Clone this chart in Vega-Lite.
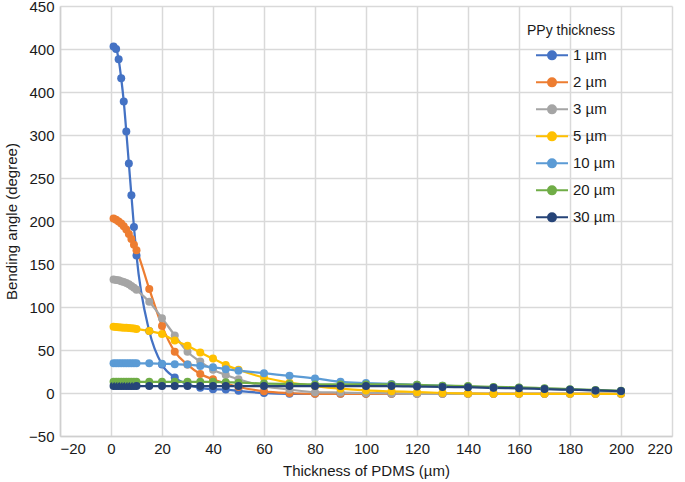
{
  "$schema": "https://vega.github.io/schema/vega-lite/v6.json",
  "width": 612,
  "height": 430,
  "autosize": "none",
  "padding": {"left": 60, "top": 6, "right": 13, "bottom": 46},
  "background": "white",
  "config": {
    "font": "Liberation Sans",
    "view": {"stroke": null},
    "axis": {
      "labelFontSize": 15,
      "titleFontSize": 15,
      "titleFontWeight": "normal",
      "labelColor": "#1a1a1a",
      "titleColor": "#1a1a1a",
      "ticks": false,
      "gridColor": "#d9d9d9",
      "gridWidth": 1.5,
      "domainColor": "#cfcfcf",
      "domainWidth": 1.5
    }
  },
  "data": {
    "values": [
      {"x": 1, "1 µm": 403, "2 µm": 203, "3 µm": 132, "5 µm": 77, "10 µm": 34.5, "20 µm": 13, "30 µm": 8},
      {"x": 2, "1 µm": 400, "2 µm": 201.5, "3 µm": 131.5, "5 µm": 76.8, "10 µm": 34.5, "20 µm": 13, "30 µm": 8},
      {"x": 3, "1 µm": 388, "2 µm": 199.5, "3 µm": 131, "5 µm": 76.5, "10 µm": 34.5, "20 µm": 13, "30 µm": 8},
      {"x": 4, "1 µm": 366, "2 µm": 197, "3 µm": 130, "5 µm": 76.2, "10 µm": 34.5, "20 µm": 13, "30 µm": 8},
      {"x": 5, "1 µm": 339, "2 µm": 194, "3 µm": 129, "5 µm": 76, "10 µm": 34.5, "20 µm": 13, "30 µm": 8},
      {"x": 6, "1 µm": 304, "2 µm": 190, "3 µm": 128, "5 µm": 75.8, "10 µm": 34.5, "20 µm": 13, "30 µm": 8},
      {"x": 7, "1 µm": 267, "2 µm": 185, "3 µm": 126.5, "5 µm": 75.5, "10 µm": 34.5, "20 µm": 13, "30 µm": 8},
      {"x": 8, "1 µm": 230, "2 µm": 179, "3 µm": 124.5, "5 µm": 75.2, "10 µm": 34.5, "20 µm": 13, "30 µm": 8},
      {"x": 9, "1 µm": 193, "2 µm": 172.5, "3 µm": 122.5, "5 µm": 75, "10 µm": 34.5, "20 µm": 13, "30 µm": 8},
      {"x": 10, "1 µm": 160, "2 µm": 166, "3 µm": 120, "5 µm": 74.5, "10 µm": 34.5, "20 µm": 13, "30 µm": 8},
      {"x": 15, "1 µm": 72, "2 µm": 121, "3 µm": 106, "5 µm": 72, "10 µm": 34.5, "20 µm": 13, "30 µm": 8},
      {"x": 20, "1 µm": 33, "2 µm": 78, "3 µm": 87, "5 µm": 68.5, "10 µm": 34, "20 µm": 13, "30 µm": 8},
      {"x": 25, "1 µm": 18, "2 µm": 48, "3 µm": 67, "5 µm": 61, "10 µm": 33.5, "20 µm": 13, "30 µm": 8},
      {"x": 30, "1 µm": 10, "2 µm": 33, "3 µm": 48, "5 µm": 55, "10 µm": 33, "20 µm": 13, "30 µm": 8},
      {"x": 35, "1 µm": 6, "2 µm": 22, "3 µm": 36.5, "5 µm": 47, "10 µm": 31.5, "20 µm": 13, "30 µm": 8},
      {"x": 40, "1 µm": 4.5, "2 µm": 16, "3 µm": 27, "5 µm": 40, "10 µm": 30, "20 µm": 13, "30 µm": 8},
      {"x": 45, "1 µm": 4, "2 µm": 11, "3 µm": 21, "5 µm": 32.7, "10 µm": 27.7, "20 µm": 12.5, "30 µm": 8},
      {"x": 50, "1 µm": 2.5, "2 µm": 7, "3 µm": 16, "5 µm": 27, "10 µm": 26, "20 µm": 12, "30 µm": 8},
      {"x": 60, "1 µm": 0, "2 µm": 2, "3 µm": 8, "5 µm": 18, "10 µm": 23, "20 µm": 11, "30 µm": 8},
      {"x": 70, "1 µm": -1, "2 µm": 0, "3 µm": 4, "5 µm": 12, "10 µm": 20, "20 µm": 10.5, "30 µm": 8},
      {"x": 80, "1 µm": -1, "2 µm": -1, "3 µm": 1, "5 µm": 8, "10 µm": 17, "20 µm": 10, "30 µm": 8},
      {"x": 90, "1 µm": -1, "2 µm": -1, "3 µm": 0.5, "5 µm": 5, "10 µm": 13, "20 µm": 10, "30 µm": 8},
      {"x": 100, "1 µm": -1, "2 µm": -1, "3 µm": 0, "5 µm": 3, "10 µm": 11.5, "20 µm": 10, "30 µm": 8},
      {"x": 110, "1 µm": -1, "2 µm": -1, "3 µm": -0.5, "5 µm": 2, "10 µm": 10.5, "20 µm": 10, "30 µm": 8},
      {"x": 120, "1 µm": -1, "2 µm": -1, "3 µm": -1, "5 µm": 1, "10 µm": 9.5, "20 µm": 9.5, "30 µm": 7.5},
      {"x": 130, "1 µm": -1, "2 µm": -1, "3 µm": -1, "5 µm": 0, "10 µm": 8.5, "20 µm": 8.5, "30 µm": 7},
      {"x": 140, "1 µm": -1, "2 µm": -1, "3 µm": -1, "5 µm": -0.5, "10 µm": 7.5, "20 µm": 8, "30 µm": 6.8},
      {"x": 150, "1 µm": -1, "2 µm": -1, "3 µm": -1, "5 µm": -1, "10 µm": 6.5, "20 µm": 7, "30 µm": 6},
      {"x": 160, "1 µm": -1, "2 µm": -1, "3 µm": -1, "5 µm": -1, "10 µm": 6, "20 µm": 6.5, "30 µm": 5.5},
      {"x": 170, "1 µm": -1, "2 µm": -1, "3 µm": -1, "5 µm": -1, "10 µm": 5, "20 µm": 5.5, "30 µm": 4.6},
      {"x": 180, "1 µm": -1, "2 µm": -1, "3 µm": -1, "5 µm": -1, "10 µm": 4, "20 µm": 4.5, "30 µm": 3.8},
      {"x": 190, "1 µm": -1, "2 µm": -1, "3 µm": -1, "5 µm": -1, "10 µm": 3, "20 µm": 3.5, "30 µm": 3},
      {"x": 200, "1 µm": -1, "2 µm": -1, "3 µm": -1, "5 µm": -1, "10 µm": 2, "20 µm": 2.5, "30 µm": 2.3}
    ]
  },
  "transform": [
    {"fold": ["1 µm", "2 µm", "3 µm", "5 µm", "10 µm", "20 µm", "30 µm"], "as": ["s", "y"]}
  ],
  "encoding": {
    "x": {
      "field": "x",
      "type": "quantitative",
      "scale": {"domain": [-20, 220], "nice": false, "zero": false},
      "axis": {
        "values": [-20, 0, 20, 40, 60, 80, 100, 120, 140, 160, 180, 200, 220],
        "title": "Thickness of PDMS (µm)",
        "labelPadding": 5,
        "titlePadding": 7
      }
    },
    "y": {
      "field": "y",
      "type": "quantitative",
      "scale": {"domain": [-50, 450], "nice": false, "zero": false},
      "axis": {
        "values": [-50, 0, 50, 100, 150, 200, 250, 300, 350, 400, 450],
        "labelExpr": "datum.value == 350 ? '400' : datum.label",
        "title": "Bending angle (degree)",
        "labelPadding": 6,
        "titlePadding": 9
      }
    },
    "color": {
      "field": "s",
      "type": "nominal",
      "scale": {
        "domain": ["1 µm", "2 µm", "3 µm", "5 µm", "10 µm", "20 µm", "30 µm"],
        "range": ["#4472C4", "#ED7D31", "#A5A5A5", "#FFC000", "#5B9BD5", "#70AD47", "#264478"]
      },
      "legend": {
        "title": "PPy thickness",
        "orient": "none",
        "legendX": 467,
        "legendY": 18,
        "symbolType": "M-1,0H1M0.25,0A0.25,0.25,0,1,1,-0.25,0A0.25,0.25,0,1,1,0.25,0Z",
        "symbolSize": 1024,
        "symbolStrokeWidth": 2,
        "symbolOffset": 8,
        "labelOffset": 4,
        "labelFontSize": 15,
        "labelColor": "#1a1a1a",
        "titleFontSize": 14,
        "titleFontWeight": "normal",
        "titleColor": "#1a1a1a",
        "titlePadding": 4,
        "rowPadding": 0,
        "clipHeight": 26.7,
        "encode": {
          "symbols": {
            "update": {
              "fill": {"scale": "color", "field": "value"},
              "stroke": {"scale": "color", "field": "value"},
              "strokeWidth": {"value": 2},
              "opacity": {"value": 1}
            }
          }
        }
      }
    }
  },
  "layer": [
    {"mark": {"type": "line", "interpolate": "monotone", "strokeWidth": 2.25}},
    {"mark": {"type": "point", "filled": true, "opacity": 1, "size": 64}}
  ]
}
